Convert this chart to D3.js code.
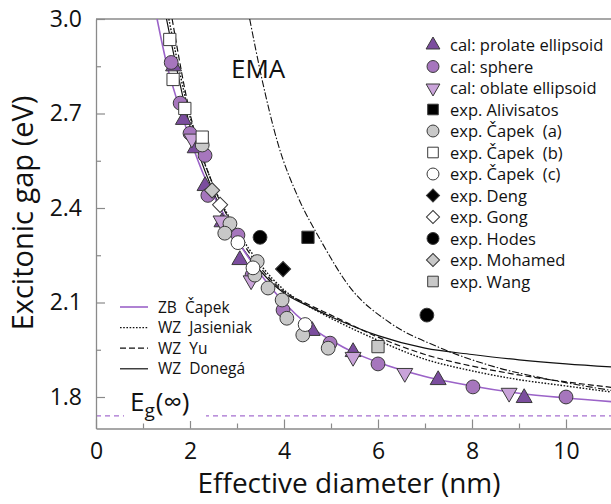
<!DOCTYPE html>
<html><head><meta charset="utf-8">
<script src="https://cdn.jsdelivr.net/npm/d3@7"></script>
<style>body{margin:0;background:#fff} text{font-family:"Open Sans",sans-serif;fill:#111}</style>
</head><body><svg id="c" width="611" height="504"></svg>
<script>
// ---------- data ----------
const xMajorTicks=[0,2,4,6,8,10];
const xMinorTicks=[1,3,5,7,9,11];
const yMajorTicks=[1.8,2.1,2.4,2.7,3.0];
const yMinorTicks=[1.95,2.25,2.55,2.85];
const EgInf=1.74;

// curves [diameter nm, gap eV]
const zbCapek=[[1.30,3.0],[1.5,2.86],[1.75,2.73],[2.0,2.62],[2.25,2.52],[2.5,2.44],[2.75,2.37],[3.0,2.30],[3.5,2.19],[4.0,2.10],[4.5,2.03],[5.0,1.98],[5.5,1.94],[6.0,1.91],[7.0,1.865],[8.0,1.835],[9.0,1.812],[10.0,1.797],[11.0,1.785]];
const wzJasieniak=[[1.55,3.0],[2.0,2.69],[2.5,2.47],[3.0,2.33],[3.5,2.22],[4.0,2.14],[4.5,2.09],[5.0,2.05],[6.0,1.98],[7.0,1.92],[8.0,1.883],[9.0,1.855],[10.0,1.835],[11.0,1.815]];
const wzYu=[[1.62,3.0],[2.0,2.70],[2.5,2.47],[3.0,2.32],[3.5,2.21],[4.0,2.135],[4.5,2.095],[5.0,2.06],[6.0,1.99],[7.0,1.935],[8.0,1.898],[9.0,1.87],[10.0,1.848],[11.0,1.83]];
const wzDonega=[[1.50,3.0],[2.0,2.66],[2.5,2.45],[3.0,2.30],[3.5,2.20],[4.0,2.13],[4.5,2.09],[5.0,2.055],[6.0,1.995],[7.0,1.955],[8.0,1.935],[9.0,1.918],[10.0,1.905],[11.0,1.895]];
const ema=[[3.27,3.0],[3.53,2.81],[3.87,2.605],[4.30,2.434],[4.77,2.30],[5.40,2.149],[6.26,2.035],[7.26,1.96],[8.5,1.895],[9.5,1.86],[11.0,1.82]];

// points
const calProlate=[[1.65,2.85],[1.86,2.68],[2.11,2.59],[2.32,2.47],[2.68,2.355],[3.06,2.235],[4.6,2.01],[5.47,1.943],[7.28,1.854],[9.11,1.797]];
const calSphere=[[1.60,2.862],[1.79,2.733],[2.0,2.637],[2.32,2.567],[2.38,2.44],[3.02,2.314],[3.32,2.187],[3.98,2.076],[4.98,1.971],[6.0,1.905],[8.02,1.832],[10.0,1.80]];
const calOblate=[[2.04,2.62],[2.66,2.36],[3.3,2.17],[5.47,1.927],[6.57,1.876],[8.79,1.813]];
const expAlivisatos=[[4.51,2.307]];
const expCapekA=[[2.26,2.60],[2.85,2.35],[2.74,2.32],[3.43,2.23],[3.38,2.187],[3.66,2.146],[3.96,2.108],[4.06,2.05],[4.40,1.997],[4.94,1.955]];
const expCapekB=[[1.57,2.935],[1.64,2.808],[1.89,2.716],[2.26,2.625]];
const expCapekC=[[3.02,2.29],[3.34,2.21],[4.45,2.03]];
const expDeng=[[3.98,2.206]];
const expGong=[[2.64,2.41]];
const expHodes=[[3.49,2.307],[7.04,2.06]];
const expMohamed=[[2.47,2.456]];
const expWang=[[6.0,1.96]];

const pointLabels=["cal: prolate ellipsoid","cal: sphere","cal: oblate ellipsoid","exp. Alivisatos","exp. Čapek  (a)","exp. Čapek  (b)","exp. Čapek  (c)","exp. Deng","exp. Gong","exp. Hodes","exp. Mohamed","exp. Wang"];
const lineLabels=["ZB  Čapek","WZ  Jasieniak","WZ  Yu","WZ  Donegá"];

// ---------- drawing ----------
const svg=d3.select("#c");
const W=611,H=504;
const x=d3.scaleLinear().domain([0,11]).range([96,613]);
const y=d3.scaleLinear().domain([1.70,3.0]).range([428.5,19]);
const axisCol="#8a8a8a";

svg.append("defs").append("clipPath").attr("id","clip").append("rect")
  .attr("x",96).attr("y",19).attr("width",W-96).attr("height",428.5-19);

// frame top
svg.append("line").attr("x1",96).attr("x2",W).attr("y1",19).attr("y2",19).attr("stroke",axisCol).attr("stroke-width",1.3);

// Eg dashed line
svg.append("line").attr("x1",x(0)).attr("x2",W).attr("y1",y(EgInf)).attr("y2",y(EgInf))
  .attr("stroke","#a56fd0").attr("stroke-width",1.3).attr("stroke-dasharray","5,4");

// axes
function styleAxis(g){g.select(".domain").attr("stroke",axisCol).attr("stroke-width",1.3);g.selectAll(".tick line").attr("stroke",axisCol).attr("stroke-width",1.2);}
const gx=svg.append("g").attr("transform",`translate(0,${y(1.70)})`)
  .call(d3.axisBottom(x).tickValues(xMajorTicks).tickSizeInner(-9).tickSizeOuter(0).tickPadding(14).tickFormat(d3.format("d")));
styleAxis(gx); gx.selectAll("text").attr("font-size",23).attr("font-family","Open Sans").attr("fill","#111");
const gxm=svg.append("g").attr("transform",`translate(0,${y(1.70)})`)
  .call(d3.axisBottom(x).tickValues(xMinorTicks).tickSizeInner(-5).tickSizeOuter(0).tickFormat(""));
styleAxis(gxm); gxm.select(".domain").remove();
const gy=svg.append("g").attr("transform",`translate(${x(0)},0)`)
  .call(d3.axisLeft(y).tickValues(yMajorTicks).tickSizeInner(-9).tickSizeOuter(0).tickPadding(14).tickFormat(d3.format(".1f")));
styleAxis(gy); gy.selectAll("text").attr("font-size",23).attr("font-family","Open Sans").attr("fill","#111");
const gym=svg.append("g").attr("transform",`translate(${x(0)},0)`)
  .call(d3.axisLeft(y).tickValues(yMinorTicks).tickSizeInner(-5).tickSizeOuter(0).tickFormat(""));
styleAxis(gym); gym.select(".domain").remove();

// titles
svg.append("text").attr("x",349).attr("y",493).attr("text-anchor","middle").attr("font-size",28).text("Effective diameter (nm)");
svg.append("text").attr("transform","translate(33,213) rotate(-90)").attr("text-anchor","middle").attr("font-size",29).text("Excitonic gap (eV)");

// Eg label
svg.append("rect").attr("x",124).attr("y",393).attr("width",82).attr("height",28).attr("fill","#fff");
const eg=svg.append("text").attr("x",130).attr("y",411).attr("font-size",26);
eg.append("tspan").text("E");
eg.append("tspan").attr("font-size",19).attr("dy",6).text("g");
eg.append("tspan").attr("dy",-6).attr("dx",1).text("(∞)");

// EMA label
svg.append("text").attr("x",231).attr("y",78).attr("font-size",26).text("EMA");

// curves
const line=d3.line().x(d=>x(d[0])).y(d=>y(d[1])).curve(d3.curveMonotoneX);
const cg=svg.append("g").attr("clip-path","url(#clip)");
const curveDefs=[
  {data:ema,stroke:"#111",dash:"7,2,1.5,2",w:1.1},
  {data:wzDonega,stroke:"#111",dash:null,w:1.2},
  {data:wzYu,stroke:"#111",dash:"6,3",w:1.2},
  {data:wzJasieniak,stroke:"#111",dash:"1.6,1.6",w:1.4},
  {data:zbCapek,stroke:"#9b63c8",dash:null,w:1.6}
];
curveDefs.forEach(c=>{cg.append("path").attr("d",line(c.data)).attr("fill","none").attr("stroke",c.stroke).attr("stroke-width",c.w).attr("stroke-dasharray",c.dash);});

// markers
const outline="#3a3a3a";
const sym={
  triUp:{type:d3.symbolTriangle,size:110,rot:0},
  triDown:{type:d3.symbolTriangle,size:110,rot:180},
  circle:{type:d3.symbolCircle,size:150,rot:0},
  square:{type:d3.symbolSquare,size:150,rot:0},
  diamond:{type:d3.symbolSquare,size:115,rot:45}
};
const series=[
  {data:calProlate,shape:"triUp",fill:"#7b4d9e"},
  {data:calSphere,shape:"circle",fill:"#a676bd"},
  {data:calOblate,shape:"triDown",fill:"#c9a3d9"},
  {data:expAlivisatos,shape:"square",fill:"#000"},
  {data:expCapekA,shape:"circle",fill:"#c8c8c8"},
  {data:expCapekB,shape:"square",fill:"#fff"},
  {data:expCapekC,shape:"circle",fill:"#fff"},
  {data:expDeng,shape:"diamond",fill:"#000"},
  {data:expGong,shape:"diamond",fill:"#fff"},
  {data:expHodes,shape:"circle",fill:"#000"},
  {data:expMohamed,shape:"diamond",fill:"#c8c8c8"},
  {data:expWang,shape:"square",fill:"#c8c8c8"}
];
const mg=svg.append("g").attr("clip-path","url(#clip)");
series.forEach(s=>{
  const sp=sym[s.shape];
  const p=d3.symbol().type(sp.type).size(sp.size)();
  mg.selectAll(null).data(s.data).enter().append("path").attr("d",p)
    .attr("transform",d=>`translate(${x(d[0])},${y(d[1])}) rotate(${sp.rot})`)
    .attr("fill",s.fill).attr("stroke",outline).attr("stroke-width",1);
});

// legend (points)
const lg=svg.append("g");
series.forEach((s,i)=>{
  const sp=sym[s.shape];
  const cy=45+i*21.5;
  const p=d3.symbol().type(sp.type).size(sp.size*0.75)();
  lg.append("path").attr("d",p).attr("transform",`translate(433,${cy}) rotate(${sp.rot})`)
    .attr("fill",s.fill).attr("stroke",outline).attr("stroke-width",1);
  lg.append("text").attr("x",450).attr("y",cy+6).attr("font-size",16.5).style("white-space","pre").text(pointLabels[i]);
});
// legend (lines)
const lineLeg=[curveDefs[4],curveDefs[3],curveDefs[2],curveDefs[1]];
lineLeg.forEach((c,i)=>{
  const cy=307+i*20.6;
  lg.append("line").attr("x1",120).attr("x2",148).attr("y1",cy).attr("y2",cy)
    .attr("stroke",c.stroke).attr("stroke-width",c.w).attr("stroke-dasharray",c.dash);
  lg.append("text").attr("x",158).attr("y",cy+5.5).attr("font-size",15.5).style("white-space","pre").text(lineLabels[i]);
});
</script></body></html>
